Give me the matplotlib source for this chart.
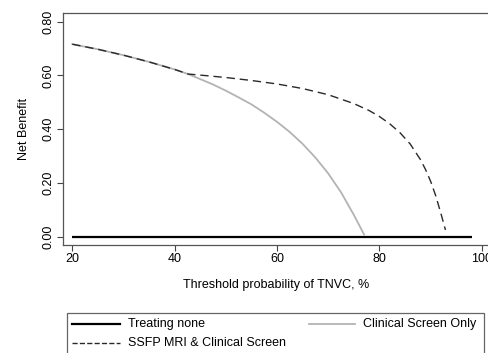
import matplotlib
matplotlib.use("Agg")
import matplotlib.pyplot as plt
from matplotlib.lines import Line2D
from matplotlib.patches import Rectangle

plt.rcParams["font.family"] = ["Liberation Sans", "DejaVu Sans"]
plt.rcParams["font.size"] = 9

# ---- data ----
none_x = [20, 98]
none_y = [0.0, 0.0]

clin_x = [20, 25, 30, 35, 40, 42.6, 45, 47.5, 50, 52.5, 55, 57.5, 60, 62.5,
          65, 67.5, 70, 72.5, 75, 77]
clin_y = [0.716, 0.697, 0.675, 0.650, 0.622, 0.605, 0.586, 0.566, 0.543, 0.518,
          0.492, 0.461, 0.427, 0.389, 0.345, 0.294, 0.235, 0.165, 0.081, 0.008]

ssfp_x = [20, 25, 30, 35, 40, 42.6, 45, 50, 55, 60, 65, 70, 75, 78, 80, 82,
          84, 86, 88, 89, 90, 91, 92, 92.9]
ssfp_y = [0.716, 0.697, 0.675, 0.650, 0.622, 0.605, 0.601, 0.592, 0.581, 0.568,
          0.551, 0.528, 0.495, 0.469, 0.447, 0.420, 0.387, 0.345, 0.287, 0.250,
          0.206, 0.152, 0.087, 0.025]

xticks = [20, 40, 60, 80, 100]
yticks = [0.0, 0.2, 0.4, 0.6, 0.8]

W, H = 488, 353
fig = plt.figure(figsize=(W / 100, H / 100), dpi=100)
ax = fig.add_axes([63 / W, 1 - 245 / H, 427 / W, 232 / H])

l_none, = ax.plot(none_x, none_y, color="black", lw=1.6, solid_capstyle="butt")
l_clin, = ax.plot(clin_x, clin_y, color="#b3b3b3", lw=1.3)
l_ssfp, = ax.plot(ssfp_x, ssfp_y, color="#2a2a2a", lw=1.0, dashes=(6, 3.5))

ax.set_xlim(18.18, 101.6)
ax.set_ylim(-0.031, 0.832)
ax.set_xticks(xticks)
ax.set_xticklabels([str(v) for v in xticks])
ax.set_yticks(yticks)
ax.set_yticklabels([f"{v:.2f}" for v in yticks], rotation=90, va="center")
ax.tick_params(direction="out", length=4, width=0.8, color="#444444", pad=2,
               labelsize=9)
for s in ax.spines.values():
    s.set_color("#555555")
    s.set_linewidth(0.9)
ax.set_xlabel("Threshold probability of TNVC, %", fontsize=9, labelpad=10)
ax.set_ylabel("Net Benefit", fontsize=9, labelpad=9)

# legend box, Stata style (bottom cut off by the figure edge)
fig.add_artist(Rectangle((67 / W, -0.05), (484 - 67) / W, 1 - 313 / H + 0.05,
                         transform=fig.transFigure, fill=False,
                         edgecolor="#666666", lw=0.9))
entries = [(l_none, "Treating none", 72, 120, 324),
           (l_clin, "Clinical Screen Only", 309, 355, 324),
           (l_ssfp, "SSFP MRI & Clinical Screen", 72, 120, 342.5)]
for ln, label, x0, x1, yp in entries:
    y = 1 - yp / H
    fig.add_artist(Line2D([x0 / W, x1 / W], [y, y],
                          transform=fig.transFigure, color=ln.get_color(),
                          lw=ln.get_linewidth(), linestyle=ln.get_linestyle()))
    fig.text((x1 + 8) / W, y, label, va="center", ha="left", fontsize=9)

fig.savefig("out.png", dpi=100)
